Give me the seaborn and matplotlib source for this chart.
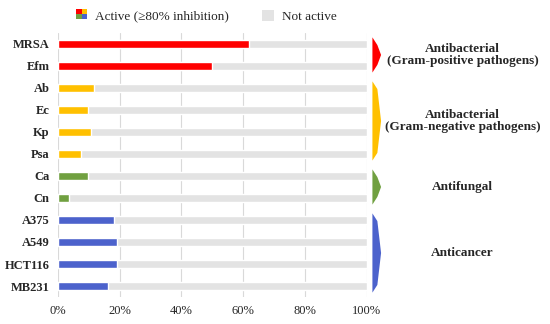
import pandas as pd
import numpy as np
import seaborn as sns
import matplotlib.pyplot as plt
from matplotlib.patches import Polygon, Rectangle
from matplotlib.legend_handler import HandlerBase

## Data
targets = ['MRSA', 'Efm', 'Ab', 'Ec', 'Kp', 'Psa', 'Ca', 'Cn', 'A375', 'A549', 'HCT116', 'MB231']
active = [62, 50, 11.6, 9.8, 10.7, 7.6, 9.8, 3.8, 18.3, 19.3, 19.3, 16.4]
groups = ['gpos', 'gpos', 'gneg', 'gneg', 'gneg', 'gneg', 'fung', 'fung', 'canc', 'canc', 'canc', 'canc']
group_names = ['gpos', 'gneg', 'fung', 'canc']
group_labels = ['Antibacterial\n(Gram-positive pathogens)', 'Antibacterial\n(Gram-negative pathogens)',
                'Antifungal', 'Anticancer']
group_colors = {'gpos': '#FF0000', 'gneg': '#FFC000', 'fung': '#70A040', 'canc': '#4C62CC'}
xticks = [0, 20, 40, 60, 80, 100]

df = pd.DataFrame({'target': targets, 'active': active, 'group': groups})
df['total'] = 100

sns.set_style('white')
plt.rcParams['font.family'] = ['Liberation Serif', 'DejaVu Serif']

fig = plt.figure(figsize=(5.5, 3.24), dpi=100)
ax = fig.add_axes([0.105, 0.0833, 0.562, 0.815])

# grey background bars, then active part on top
sns.barplot(data=df, x='total', y='target', orient='h', color='#E3E3E3', width=0.36, ax=ax, saturation=1)
sns.barplot(data=df, x='active', y='target', orient='h', hue='group', palette=group_colors,
            width=0.36, ax=ax, legend=False, saturation=1, dodge=False)

ax.set_xlim(0, 100)
ax.set_ylim(11.5, -0.5)
ax.set_xticks(xticks)
ax.set_xticklabels([f'{t}%' for t in xticks], fontsize=9)
ax.tick_params(axis='y', labelsize=9, length=0, pad=6)
ax.tick_params(axis='x', length=0, pad=6)
for lab in ax.get_yticklabels():
    lab.set_fontweight('bold')
ax.set_xlabel('')
ax.set_ylabel('')
ax.set_axisbelow(True)
ax.grid(axis='x', color='#D9D9D9', lw=0.8)
for s in ax.spines.values():
    s.set_visible(False)

# group brackets on the right
idx = np.arange(len(targets))
for g, lbl in zip(group_names, group_labels):
    rows = idx[np.array(groups) == g]
    y0, y1 = rows.min() - 0.3, rows.max() + 0.3
    ym = (y0 + y1) / 2
    x0, x1, xt = 101.8, 103.4, 104.6
    poly = Polygon([[x0, y0], [x1, y0 + 0.35], [xt, ym], [x1, y1 - 0.35], [x0, y1]],
                   closed=True, color=group_colors[g], clip_on=False, lw=0)
    ax.add_patch(poly)
    ax.text(131, ym, lbl, ha='center', va='center', fontsize=9.5, fontweight='bold',
            linespacing=1.1)


# legend with a four colour swatch
class FourSquare(HandlerBase):
    def create_artists(self, legend, orig, xd, yd, w, h, fontsize, trans):
        s = h
        x = xd + (w - s) / 2
        y = yd - 0.5
        cols = ['#70A040', '#4C62CC', '#FF0000', '#FFC000']
        arts = []
        for i, c in enumerate(cols):
            r = Rectangle((x + (i % 2) * s / 2, y + (i // 2) * s / 2), s / 2, s / 2,
                          facecolor=c, lw=0, transform=trans)
            arts.append(r)
        return arts


act = Rectangle((0, 0), 1, 1)
nact = Rectangle((0, 0), 1, 1, facecolor='#E3E3E3', lw=0)
fig.legend([act, nact], ['Active (\u226580% inhibition)', 'Not active'],
           handler_map={act: FourSquare()}, loc='center', bbox_to_anchor=(0.375, 0.95),
           ncol=2, frameon=False, fontsize=9.5, handlelength=0.9, handleheight=0.9,
           columnspacing=2.5, handletextpad=0.6)

plt.savefig('out.png', dpi=100)
